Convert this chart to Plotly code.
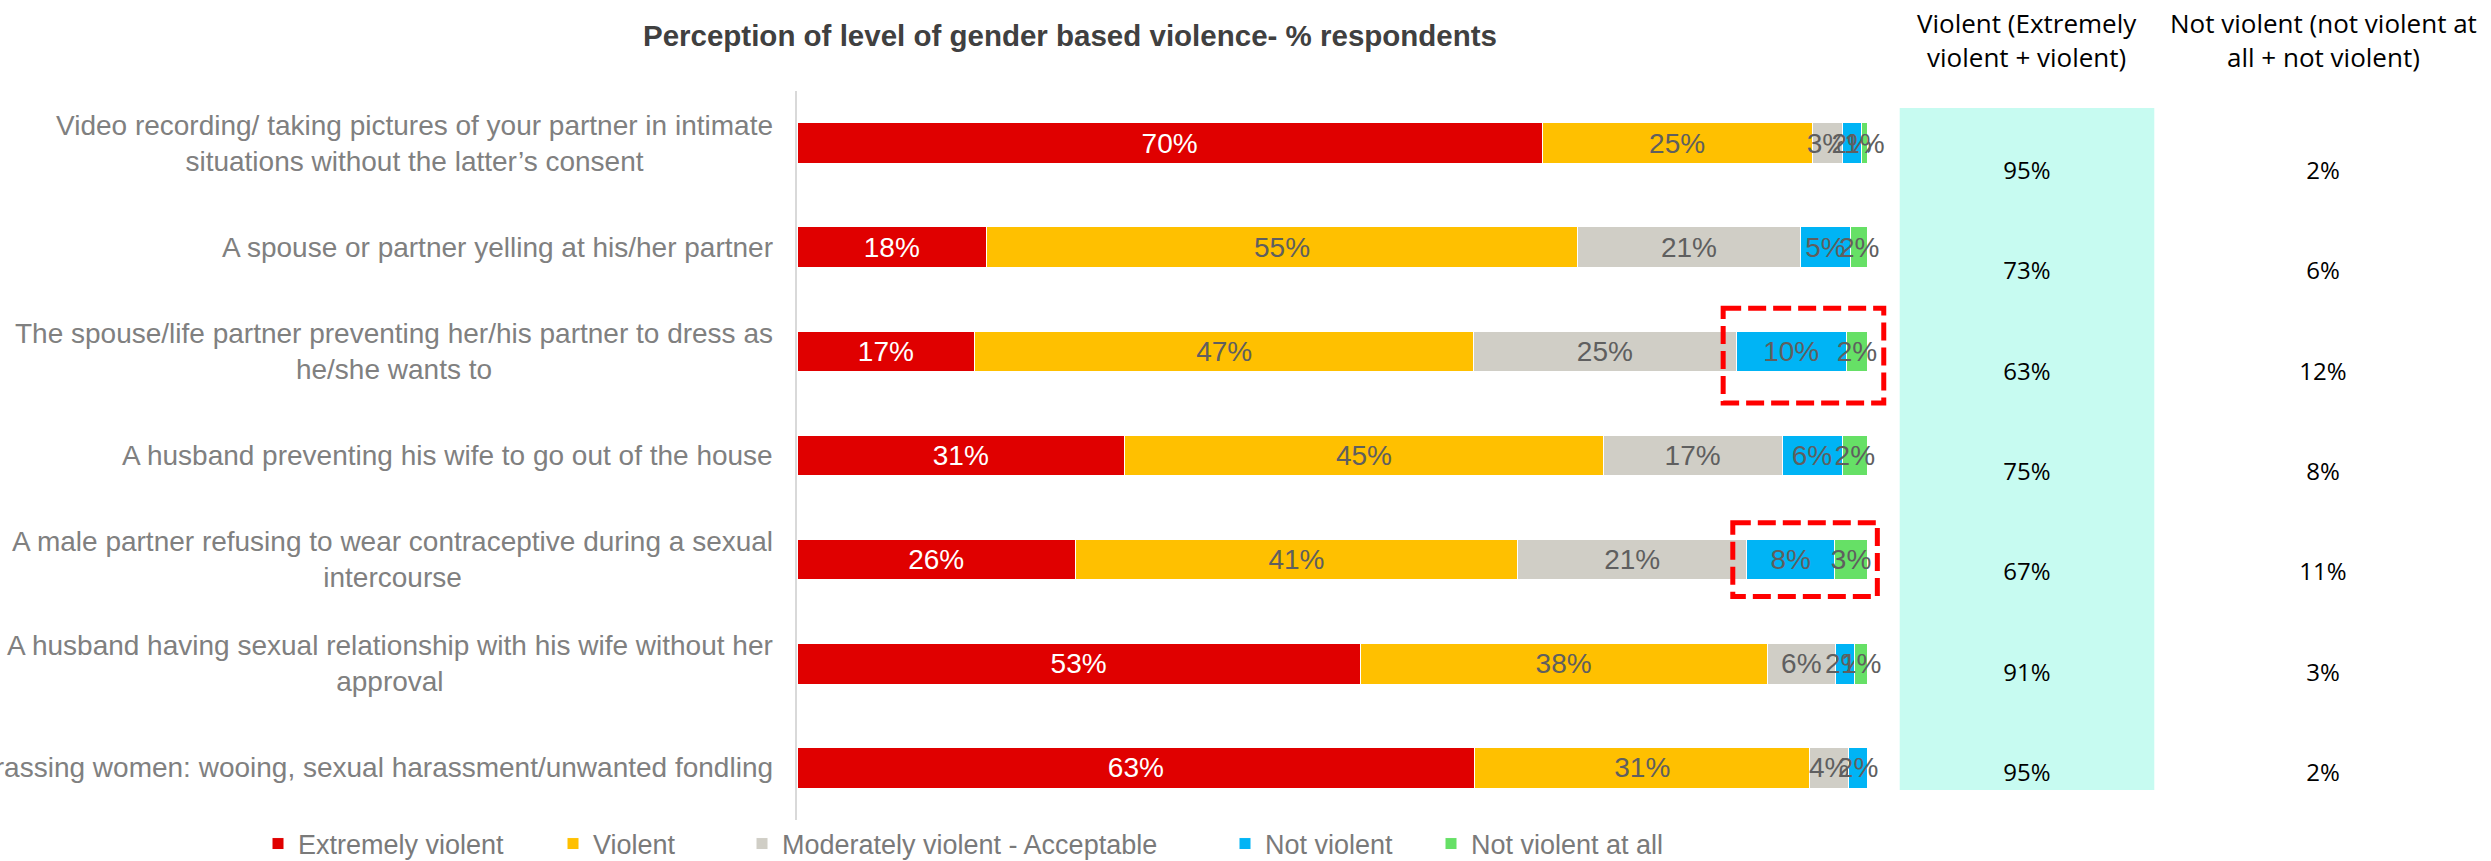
import plotly.graph_objects as go

# Survey items (top to bottom)
statements = [
    "Video recording/ taking pictures of your partner in intimate<br>situations without the latter’s consent",
    "A spouse or partner yelling at his/her partner",
    "The spouse/life partner preventing her/his partner to dress as<br>he/she wants to",
    "A husband preventing his wife to go out of the house",
    "A male partner refusing to wear contraceptive during a sexual<br>intercourse",
    "A husband having sexual relationship with his wife without her<br>approval",
    "Harassing women: wooing, sexual harassment/unwanted fondling",
]

# Share of respondents (%) per perception level
extremely_violent = [69.6, 17.7, 16.6, 30.6, 26.0, 52.6, 63.3]
violent = [25.2, 55.2, 46.6, 44.7, 41.3, 38.0, 31.3]
moderately_violent = [2.8, 20.8, 24.5, 16.7, 21.4, 6.4, 3.6]
not_violent = [1.8, 4.7, 10.3, 5.6, 8.2, 1.8, 1.8]
not_violent_at_all = [0.6, 1.6, 2.0, 2.4, 3.1, 1.2, None]

series = [
    ("Extremely violent", extremely_violent, "#E00000", "#FFFFFF"),
    ("Violent", violent, "#FFC000", "#5F5F5F"),
    ("Moderately violent - Acceptable", moderately_violent, "#D0CEC6", "#5F5F5F"),
    ("Not violent", not_violent, "#00B4F5", "#5F5F5F"),
    ("Not violent at all", not_violent_at_all, "#66E066", "#5F5F5F"),
]

# Summary columns
violent_total = [a + b for a, b in zip(extremely_violent, violent)]
not_violent_total = [a + (b or 0) for a, b in zip(not_violent, not_violent_at_all)]

W, H = 2491, 861
ML, MR, MT, MB = 797, 20, 91, 41
PW = W - ML - MR
PH = H - MT - MB

ARIAL = "Liberation Sans, Arial, sans-serif"
CALIBRI = "Open Sans, Calibri, sans-serif"


def px_to_paper_y(py):
    return (H - MB - py) / PH


def px_to_paper_x(px):
    return (px - ML) / PW


# summary rows run a little tighter than the bars
row_first_px, row_last_px = 173, 775
row_step = (row_last_px - row_first_px) / (len(statements) - 1)
y2_top = -(row_first_px - MT) / row_step
y2_bottom = (len(statements) - 1) + (H - MB - row_last_px) / row_step

# one legend per series so every entry sits at its own spot
legend_left_px = [258, 553, 742, 1225, 1431]

fig = go.Figure()

for i, (name, vals, color, tcolor) in enumerate(series):
    fig.add_trace(go.Bar(
        y=statements, x=vals, name=name, orientation="h",
        marker=dict(color=color, line=dict(color="#FFFFFF", width=1)),
        texttemplate="%{x:.0f}%", textposition="inside", textangle=0,
        insidetextanchor="middle", constraintext="none",
        textfont=dict(family=ARIAL, size=28, color=tcolor),
        cliponaxis=False,
        legend="legend" if i == 0 else f"legend{i + 1}",
        xaxis="x", yaxis="y",
    ))

# Summary table as text on a second subplot
fig.add_trace(go.Scatter(
    x=[0] * len(statements), y=statements, mode="text",
    text=[f"{v:.0f}%" for v in violent_total],
    textfont=dict(family=CALIBRI, size=24, color="#000000"),
    showlegend=False, hoverinfo="skip", xaxis="x2", yaxis="y2",
))
fig.add_trace(go.Scatter(
    x=[1] * len(statements), y=statements, mode="text",
    text=[f"{v:.0f}%" for v in not_violent_total],
    textfont=dict(family=CALIBRI, size=24, color="#000000"),
    showlegend=False, hoverinfo="skip", xaxis="x2", yaxis="y2",
))

# Statement labels, centred lines, right-aligned next to the axis
annotations = []
for s in statements:
    annotations.append(dict(
        text=s, xref="paper", yref="y", x=0, y=s, xanchor="right",
        yanchor="middle", xshift=-22, align="center", showarrow=False,
        font=dict(family=ARIAL, size=28, color="#808080"),
    ))

# Column headers
for xc, head in [(0, "Violent (Extremely<br>violent + violent)"),
                 (1, "Not violent (not violent at<br>all + not violent)")]:
    annotations.append(dict(
        text=head, xref="x2", yref="paper", x=xc, y=px_to_paper_y(40),
        xanchor="center", yanchor="middle", align="center", showarrow=False,
        font=dict(family=CALIBRI, size=26, color="#000000"),
    ))

shapes = [
    # shaded column behind the "violent" totals
    dict(type="rect", xref="x2", yref="paper", x0=-0.43, x1=0.43,
         y0=px_to_paper_y(790), y1=px_to_paper_y(108),
         fillcolor="#C7FBF1", line=dict(width=0), layer="below"),
]

# Dashed highlight boxes around the "not violent" segments
for idx, half, shift, pad_l, pad_r in [(2, 0.455, 0.04, 1.2, 1.5),
                                       (4, 0.355, 0.0, 1.3, 0.9)]:
    start = extremely_violent[idx] + violent[idx] + moderately_violent[idx]
    shapes.append(dict(
        type="rect", xref="x", yref="y",
        x0=start - pad_l, x1=100 + pad_r,
        y0=idx + shift - half, y1=idx + shift + half,
        line=dict(color="#FF0000", width=5, dash="18px,7px"),
        fillcolor="rgba(0,0,0,0)", layer="above",
    ))

x_end = 102
x_dom_end = (1070.7 * x_end / 100) / PW

legend_common = dict(
    orientation="h", xanchor="left", yanchor="middle",
    y=px_to_paper_y(844),
    font=dict(family=ARIAL, size=27, color="#7A7A7A"),
    itemwidth=30, bgcolor="rgba(0,0,0,0)",
)
legends = {}
for i, lx in enumerate(legend_left_px):
    key = "legend" if i == 0 else f"legend{i + 1}"
    legends[key] = dict(legend_common, x=px_to_paper_x(lx))

fig.update_layout(
    width=W, height=H,
    margin=dict(l=ML, r=MR, t=MT, b=MB, autoexpand=False),
    paper_bgcolor="#FFFFFF", plot_bgcolor="rgba(0,0,0,0)",
    barmode="stack", bargap=0.61,
    title=dict(
        text="<b>Perception of level of gender based violence- % respondents</b>",
        x=px_to_paper_x(1070), xref="paper", xanchor="center",
        y=1 - 36 / H, yref="container", yanchor="middle",
        font=dict(family=ARIAL, size=29.5, color="#404040"),
    ),
    xaxis=dict(domain=[0, x_dom_end], range=[0, x_end], visible=False),
    yaxis=dict(domain=[0, 1], range=[6.5, -0.5], showticklabels=False,
               showgrid=False, zeroline=False, ticks="",
               showline=True, linecolor="#D9D9D9", linewidth=1.5),
    xaxis2=dict(domain=[px_to_paper_x(1879), px_to_paper_x(2471)],
                range=[-0.5, 1.5], visible=False, anchor="y2"),
    yaxis2=dict(domain=[0, 1], range=[y2_bottom, y2_top],
                visible=False, anchor="x2"),
    annotations=annotations,
    shapes=shapes,
    showlegend=True,
    **legends,
)

fig.write_html("out.html")
